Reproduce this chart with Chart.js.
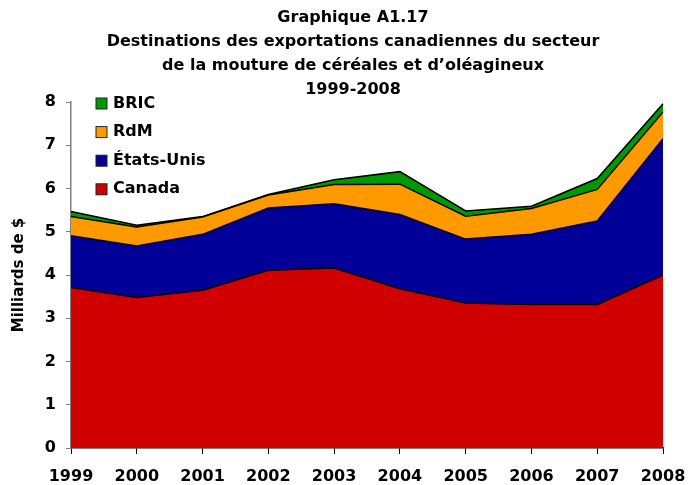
<!DOCTYPE html>
<html>
<head>
<meta charset="utf-8">
<script src="https://cdn.jsdelivr.net/npm/chart.js@4.4.1/dist/chart.umd.min.js"></script>
<style>
    body { margin: 0; background: #fff; }
    #wrap { width: 689px; height: 485px; }
</style>
</head>
<body>
<div id="wrap"><canvas id="chart" width="689" height="485"></canvas></div>
<script>
// Milliards de $, exportations par destination
const years = ['1999', '2000', '2001', '2002', '2003', '2004', '2005', '2006', '2007', '2008'];
const canada = [3.71, 3.48, 3.65, 4.11, 4.16, 3.68, 3.35, 3.32, 3.32, 4.00];
const etatsUnis = [1.20, 1.19, 1.29, 1.44, 1.49, 1.72, 1.48, 1.62, 1.93, 3.15];
const rdm = [0.44, 0.44, 0.40, 0.30, 0.44, 0.70, 0.53, 0.60, 0.73, 0.62];
const bric = [0.12, 0.04, 0.01, 0.01, 0.11, 0.29, 0.12, 0.05, 0.25, 0.19];
const titleLines = ['Graphique A1.17', 'Destinations des exportations canadiennes du secteur',
    'de la mouture de céréales et d\u2019oléagineux', '1999-2008'];

const tickFont = { family: 'DejaVu Sans', size: 16, weight: 'bold' };

function area(label, data, color, fill) {
    return {
        label: label,
        data: data,
        backgroundColor: color,
        borderColor: '#000',
        borderWidth: 1.5,
        pointRadius: 0,
        tension: 0,
        fill: fill
    };
}

// titre dessiné à la main pour le centrer comme l'original
const titlePlugin = {
    id: 'bigTitle',
    afterDraw(chart) {
        const c = chart.ctx;
        c.save();
        c.font = 'bold 16px "DejaVu Sans"';
        c.fillStyle = '#000';
        c.textAlign = 'center';
        c.textBaseline = 'middle';
        titleLines.forEach((t, i) => c.fillText(t, 353, 18 + i * 24));
        c.restore();
    }
};

// légende dans le coin haut gauche, ordre inversé
const legendPlugin = {
    id: 'insideLegend',
    afterDraw(chart) {
        const c = chart.ctx;
        const sets = chart.data.datasets.slice().reverse();
        c.save();
        c.font = 'bold 16px "DejaVu Sans"';
        c.textBaseline = 'middle';
        sets.forEach((ds, i) => {
            const y = 103.5 + i * 28.6;
            c.fillStyle = ds.backgroundColor;
            c.fillRect(96, y - 5.5, 11, 11);
            c.strokeStyle = '#222';
            c.lineWidth = 1;
            c.strokeRect(96, y - 5.5, 11, 11);
            c.fillStyle = '#000';
            c.fillText(ds.label, 113, y);
        });
        c.restore();
    }
};

const ctx = document.getElementById('chart').getContext('2d');
const chart = new Chart(ctx, {
    type: 'line',
    data: {
        labels: years,
        datasets: [
            area('Canada', canada, '#d00000', 'origin'),
            area('États-Unis', etatsUnis, '#000099', '-1'),
            area('RdM', rdm, '#ff9900', '-1'),
            area('BRIC', bric, '#009900', '-1')
        ]
    },
    options: {
        responsive: false,
        animation: false,
        layout: { padding: { top: 102, right: 26, left: 0, bottom: 0 } },
        plugins: {
            title: { display: false },
            tooltip: { enabled: false },
            legend: { display: false }
        },
        scales: {
            x: {
                offset: false,
                grid: { display: true, drawOnChartArea: false, color: '#000', tickLength: 6 },
                border: { color: '#000', width: 1.5 },
                ticks: { font: tickFont, color: '#000', padding: 13, maxRotation: 0 },
                afterFit(scale) {
                    scale.height = 37;
                    scale.paddingLeft = 0;
                    scale.paddingRight = 0;
                }
            },
            y: {
                stacked: true,
                min: 0,
                max: 8,
                grid: { display: true, drawOnChartArea: false, color: '#808080', tickLength: 5 },
                border: { color: '#808080', width: 1.5 },
                ticks: { stepSize: 1, font: tickFont, color: '#000', padding: 10 },
                title: {
                    display: true,
                    text: 'Milliards de $',
                    color: '#000',
                    font: { family: 'DejaVu Sans', size: 15, weight: 'bold' },
                    padding: { top: 10, bottom: 0 }
                },
                afterFit(scale) { scale.width = 71; }
            }
        }
    },
    plugins: [titlePlugin, legendPlugin]
});
</script>
</body>
</html>
